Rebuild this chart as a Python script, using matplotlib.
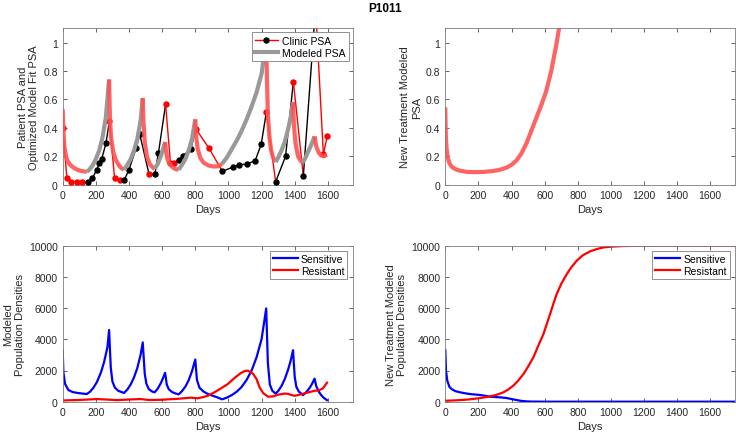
import matplotlib

matplotlib.use("Agg")
import matplotlib.pyplot as plt
from matplotlib.lines import Line2D

plt.rcParams["font.family"] = ["Liberation Sans", "DejaVu Sans"]

# treatment schedule (days where drug goes on / off)
on_starts = [0, 280, 483, 618, 800, 1228, 1390, 1520]
off_starts = [145, 370, 555, 700, 960, 1285, 1450]

# clinic PSA measurements
clinic_days = [0, 25, 52, 87, 115, 150, 178, 206, 221, 235, 261, 282, 313, 343,
               372, 400, 444, 465, 521, 556, 578, 621, 650, 673, 703, 727, 772,
               805, 883, 963, 1030, 1065, 1113, 1162, 1198, 1229, 1285, 1345,
               1392, 1452, 1526, 1573, 1597]
clinic_psa = [0.40, 0.05, 0.022, 0.018, 0.018, 0.018, 0.045, 0.105, 0.155, 0.18,
              0.29, 0.45, 0.045, 0.035, 0.035, 0.105, 0.26, 0.355, 0.075, 0.075,
              0.225, 0.565, 0.155, 0.155, 0.175, 0.205, 0.25, 0.39, 0.256, 0.094,
              0.125, 0.14, 0.145, 0.17, 0.285, 0.51, 0.02, 0.20, 0.725, 0.06,
              1.25, 0.215, 0.345]

# modeled PSA (fit)
model_days = [0, 5, 10, 20, 30, 45, 60, 80, 100, 120, 145,
              160, 180, 200, 220, 240, 260, 280,
              285, 292, 305, 320, 340, 355, 370,
              390, 410, 430, 450, 470, 483,
              487, 495, 508, 525, 545, 555,
              575, 595, 618,
              623, 630, 640, 660, 680, 700,
              720, 740, 760, 780, 800,
              805, 815, 830, 850, 880, 910, 940, 960,
              990, 1020, 1050, 1080, 1110, 1140, 1170, 1200, 1228,
              1233, 1238, 1248, 1258, 1270, 1285,
              1300, 1320, 1340, 1360, 1375, 1390,
              1395, 1405, 1420, 1435, 1450,
              1465, 1480, 1500, 1520,
              1530, 1545, 1560, 1575, 1595]
model_psa = [0.53, 0.36, 0.27, 0.20, 0.165, 0.14, 0.125, 0.11, 0.10, 0.095, 0.09,
             0.105, 0.135, 0.18, 0.24, 0.33, 0.47, 0.74,
             0.47, 0.33, 0.23, 0.175, 0.135, 0.115, 0.105,
             0.14, 0.18, 0.24, 0.32, 0.45, 0.61,
             0.45, 0.30, 0.20, 0.145, 0.12, 0.11,
             0.15, 0.21, 0.30,
             0.24, 0.19, 0.155, 0.125, 0.11, 0.105,
             0.14, 0.18, 0.24, 0.32, 0.46,
             0.34, 0.25, 0.19, 0.155, 0.135, 0.128, 0.13, 0.145,
             0.19, 0.25, 0.31, 0.38, 0.46, 0.55, 0.65, 0.78, 1.02,
             0.72, 0.50, 0.33, 0.24, 0.19, 0.16,
             0.19, 0.24, 0.30, 0.39, 0.47, 0.58,
             0.42, 0.29, 0.20, 0.17, 0.155,
             0.19, 0.23, 0.28, 0.34,
             0.27, 0.225, 0.205, 0.20, 0.21]

# modeled cell populations
sens_days = [0, 4, 14, 34, 60, 90, 120, 145,
             165, 185, 206, 230, 250, 270, 280,
             290, 300, 315, 335, 370,
             390, 410, 430, 450, 470, 483,
             495, 505, 520, 540, 555,
             575, 595, 618,
             628, 640, 660, 680, 700,
             720, 740, 760, 780, 800,
             810, 825, 850, 875, 900, 930, 962,
             990, 1020, 1050, 1080, 1110, 1140, 1170, 1200, 1228,
             1238, 1250, 1265, 1285,
             1300, 1320, 1340, 1360, 1375, 1390,
             1400, 1410, 1425, 1450,
             1470, 1490, 1505, 1520,
             1530, 1545, 1560, 1575, 1595]
sens_vals = [3300, 1900, 1150, 750, 620, 560, 520, 490,
             640, 890, 1250, 1850, 2550, 3500, 4600,
             2200, 1300, 900, 700, 560,
             780, 1100, 1550, 2150, 3000, 3800,
             1800, 1150, 800, 650, 600,
             860, 1250, 1850,
             1100, 800, 620, 530, 470,
             680, 960, 1370, 1950, 2700,
             1400, 900, 650, 500, 400, 290, 150,
             260, 420, 640, 950, 1400, 2000, 2850, 4000, 5980,
             2500, 1100, 700, 520,
             680, 1000, 1450, 2050, 2600, 3300,
             1600, 950, 650, 420,
             620, 880, 1150, 1480,
             1000, 650, 420, 250, 100]
res_days = [0, 100, 206, 280, 328, 400, 470, 520, 591, 650, 700, 773, 814, 850,
            880, 915, 950, 996, 1040, 1077, 1100, 1117, 1148, 1170, 1188, 1210,
            1239, 1270, 1300, 1340, 1360, 1380, 1401, 1440, 1482, 1520, 1543,
            1570, 1595]
res_vals = [80, 110, 170, 130, 100, 140, 170, 110, 120, 160, 190, 260, 220, 300,
            400, 600, 820, 1130, 1550, 1850, 1970, 1990, 1800, 1450, 920, 550,
            320, 340, 450, 520, 500, 430, 380, 480, 600, 700, 720, 850, 1220]

# new treatment prediction
nt_days = [0, 3, 8, 15, 25, 40, 60, 90, 130, 180, 230, 280, 330, 370, 400, 430,
           460, 490, 520, 550, 580, 610, 640, 670, 690]
nt_psa = [0.53, 0.35, 0.25, 0.19, 0.15, 0.125, 0.11, 0.098, 0.09, 0.088, 0.09,
          0.095, 0.105, 0.12, 0.14, 0.17, 0.22, 0.29, 0.38, 0.47, 0.56, 0.66,
          0.80, 0.98, 1.12]
nt_sens_days = [0, 4, 12, 25, 38, 60, 89, 120, 149, 180, 210, 240, 270, 300,
                331, 371, 400, 431, 460, 492, 520, 600, 1000, 1750]
nt_sens_vals = [3300, 2000, 1350, 950, 810, 680, 600, 540, 490, 460, 430, 380,
                320, 300, 280, 235, 170, 107, 50, 20, 8, 0, 0, 0]
nt_res_days = [0, 50, 100, 149, 210, 250, 290, 320, 351, 380, 411, 440, 472,
               500, 532, 560, 593, 613, 633, 653, 673, 700, 734, 760, 794, 830,
               875, 920, 956, 1000, 1077, 1200, 1359, 1750]
nt_res_vals = [60, 80, 110, 150, 235, 300, 385, 480, 600, 780, 1030, 1350, 1770,
               2250, 2840, 3550, 4340, 4980, 5620, 6280, 6900, 7550, 8180, 8600,
               9040, 9380, 9640, 9800, 9890, 9940, 9980, 9995, 10000, 10000]

ON_RED = "#ff5252"
MODEL_GRAY = "#999999"
TXT = "#262626"
EDGE = "#7f7f7f"


def treatment_on(day):
    last_on = max([d for d in on_starts if d <= day], default=-1)
    last_off = max([d for d in off_starts if d <= day], default=-1)
    return last_on > last_off


def runs(days, vals):
    # split a series into pieces of constant treatment state
    pieces = []
    start = 0
    for i in range(1, len(days)):
        state = treatment_on(days[i - 1])
        nxt = treatment_on(days[i]) if i < len(days) - 1 else state
        if nxt != state or i == len(days) - 1:
            pieces.append((days[start:i + 1], vals[start:i + 1], state))
            start = i
    return pieces


def style(ax, ylim, yticks, yticklabels, ylabel):
    ax.set_xlim(0, 1750)
    ax.set_ylim(*ylim)
    ax.set_xticks(range(0, 1601, 200))
    ax.set_yticks(yticks)
    ax.set_yticklabels(yticklabels)
    ax.tick_params(direction="in", length=3, width=0.5, top=True, right=True,
                   labelsize=7.5, colors=TXT, pad=3.5)
    for s in ax.spines.values():
        s.set_color(EDGE)
        s.set_linewidth(0.6)
    ax.set_xlabel("Days", fontsize=8, color=TXT, labelpad=3)
    ax.set_ylabel(ylabel, fontsize=8, color=TXT, labelpad=3)


fig = plt.figure(figsize=(7.36, 4.35), dpi=100)
W, H = 736, 435


def add_axes(left, top, right, bottom):
    return fig.add_axes([left / W, 1 - bottom / H, (right - left) / W, (bottom - top) / H])


ax1 = add_axes(62.7, 29.3, 352.7, 185.7)
ax2 = add_axes(445.3, 29.3, 735, 185.7)
ax3 = add_axes(62.7, 246.7, 352.7, 402.7)
ax4 = add_axes(445.3, 246.7, 735, 402.7)

psa_ticks = [0, 0.2, 0.4, 0.6, 0.8, 1]
psa_labels = ["0", "0.2", "0.4", "0.6", "0.8", "1"]
pop_ticks = list(range(0, 10001, 2000))
pop_labels = [str(t) for t in pop_ticks]

# top left: clinic data and fitted model
for i in range(len(clinic_days) - 1):
    c = "red" if treatment_on(clinic_days[i]) else "black"
    ax1.plot(clinic_days[i:i + 2], clinic_psa[i:i + 2], color=c, lw=1.0, zorder=2)
for d, v in zip(clinic_days, clinic_psa):
    c = "red" if treatment_on(d) else "black"
    ax1.plot(d, v, "o", color=c, ms=3.6, zorder=3)
for xs, ys, on in runs(model_days, model_psa):
    ax1.plot(xs, ys, color=ON_RED if on else MODEL_GRAY, lw=3.0,
             alpha=0.9 if on else 1.0, solid_capstyle="butt", zorder=4)
style(ax1, (0, 1.1), psa_ticks, psa_labels, "Patient PSA and\nOptimized Model Fit PSA")
handles = [Line2D([], [], color="red", lw=1.0, marker="o", mfc="black", mec="black", ms=3.6),
           Line2D([], [], color=MODEL_GRAY, lw=3.0)]
leg = ax1.legend(handles, ["Clinic PSA", "Modeled PSA"], loc="upper right",
                 fontsize=7.5, fancybox=False, framealpha=1, borderpad=0.3,
                 labelspacing=0.2, handlelength=2.2, handletextpad=0.4,
                 borderaxespad=0.4)
leg.get_frame().set_edgecolor(EDGE)
leg.get_frame().set_linewidth(0.6)
leg.set_zorder(10)

# top right: new treatment PSA
ax2.plot(nt_days, nt_psa, color=ON_RED, lw=3.0, alpha=0.9)
style(ax2, (0, 1.1), psa_ticks, psa_labels, "New Treatment Modeled\nPSA")

# bottom left: populations under fitted schedule
ax3.plot(sens_days, sens_vals, color="blue", lw=1.6, label="Sensitive")
ax3.plot(res_days, res_vals, color="red", lw=1.6, label="Resistant")
style(ax3, (0, 10000), pop_ticks, pop_labels, "Modeled\nPopulation Densities")

# bottom right: populations under new treatment
ax4.plot(nt_sens_days, nt_sens_vals, color="blue", lw=1.6, label="Sensitive")
ax4.plot(nt_res_days, nt_res_vals, color="red", lw=1.6, label="Resistant")
style(ax4, (0, 10000), pop_ticks, pop_labels, "New Treatment Modeled\nPopulation Densities")

for ax in (ax3, ax4):
    lg = ax.legend(loc="upper right", fontsize=7.5, fancybox=False, framealpha=1,
                   borderpad=0.3, labelspacing=0.2, handlelength=2.4,
                   handletextpad=0.3, borderaxespad=0.5)
    lg.get_frame().set_edgecolor(EDGE)
    lg.get_frame().set_linewidth(0.6)

fig.text(385 / W, 1 - 9 / H, "P1011", ha="center", va="center",
         fontsize=8.5, fontweight="bold", color="black")

fig.savefig("out.png", dpi=100)
plt.close(fig)
